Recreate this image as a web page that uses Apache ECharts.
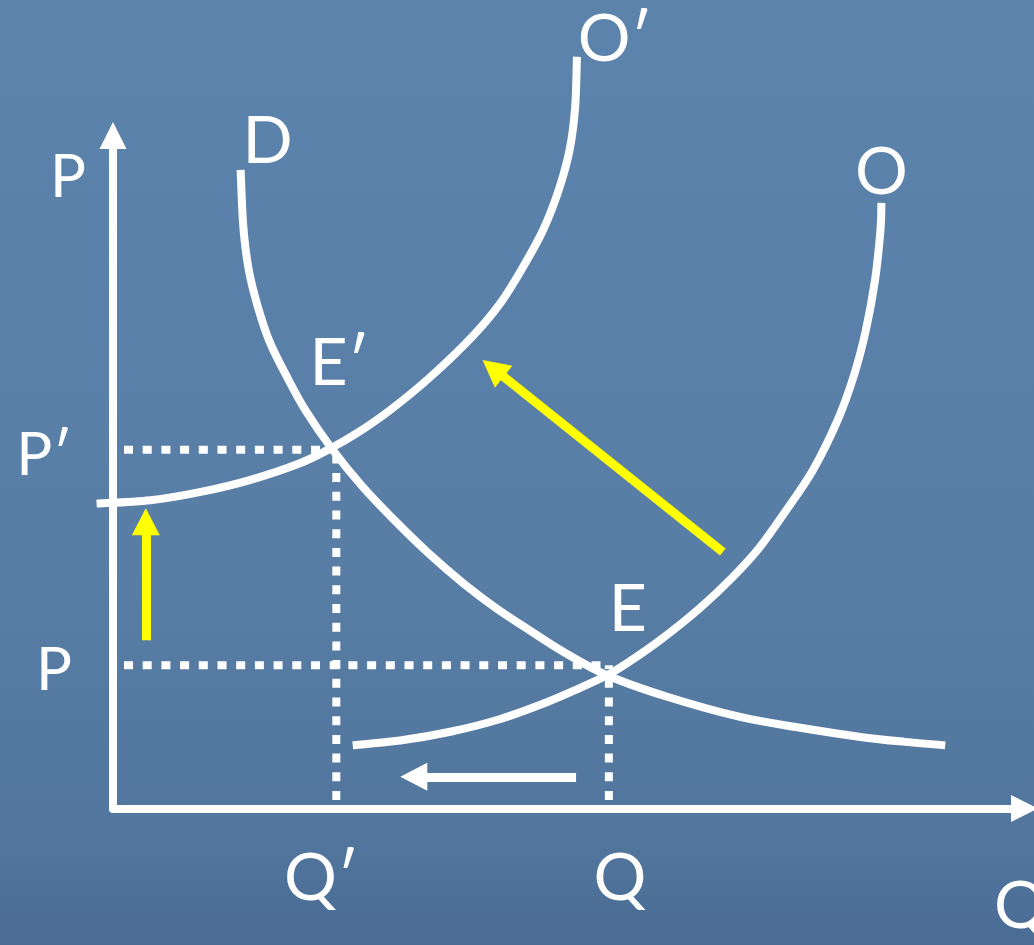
<!DOCTYPE html>
<html>
<head>
<meta charset="utf-8">
<script src="https://cdn.jsdelivr.net/npm/echarts@6/dist/echarts.min.js"></script>
<style>
html,body{margin:0;padding:0;overflow:hidden;background:#577ca5;}
#chart{width:1034px;height:945px;}
</style>
</head>
<body>
<div id="chart"></div>
<script>
// ---- Data (quantity Q on x, price P on y, axis units 0..10) ----
// Demand curve D (from its top end down to the right)
const demandQ = [1.40, 1.43, 1.49, 1.59, 1.72, 1.91, 2.11, 2.41, 2.74, 3.12, 3.48, 3.84, 4.20, 4.58, 4.94, 5.42, 6.08, 6.88, 7.54, 8.22, 8.69, 9.13];
const demandP = [9.49, 8.64, 8.00, 7.45, 6.93, 6.41, 5.92, 5.33, 4.78, 4.24, 3.77, 3.35, 2.98, 2.64, 2.33, 1.98, 1.66, 1.36, 1.20, 1.06, 0.99, 0.94];
// Supply curve O (from its low end up to its top)
const supplyQ = [2.63, 3.15, 3.70, 4.25, 4.76, 5.12, 5.42, 5.64, 6.00, 6.44, 6.80, 7.10, 7.39, 7.68, 7.95, 8.13, 8.26, 8.36, 8.42, 8.43];
const supplyP = [0.94, 1.01, 1.14, 1.33, 1.58, 1.79, 1.98, 2.16, 2.50, 2.98, 3.44, 3.89, 4.44, 5.03, 5.77, 6.44, 7.11, 7.85, 8.60, 9.00];
// Shifted supply curve O′
const shiftedQ = [-0.18, 0.41, 0.95, 1.50, 2.05, 2.40, 2.68, 3.04, 3.48, 3.94, 4.25, 4.50, 4.72, 4.89, 5.01, 5.07, 5.09];
const shiftedP = [4.53, 4.58, 4.70, 4.88, 5.13, 5.36, 5.58, 5.92, 6.41, 7.01, 7.51, 8.05, 8.60, 9.19, 9.79, 10.42, 11.17];
// Equilibrium ticks
const priceTicks = [2.13, 5.33];
const priceTickLabels = ['P', 'P\u2032'];
const quantityTicks = [2.45, 5.44];
const quantityTickLabels = ['Q\u2032', 'Q'];
// Shift arrows: [fromQ, fromP, toQ, toP]
const priceShiftArrow = [0.36, 2.50, 0.36, 4.26];
const supplyShiftArrow = [6.69, 3.81, 4.17, 6.54];
const quantityShiftArrow = [5.08, 0.47, 3.30, 0.47];
// Axis names and curve / point names
const axisNames = ['Q', 'P'];
const curveNames = ['D', 'O', 'O\u2032'];
const pointNames = ['E\u2032', 'E'];

// ---- Build ----
const zip = (a, b) => a.map((v, i) => [v, b[i]]);
const FONT = 'Lato, "DejaVu Sans", sans-serif';
const WHITE = '#ffffff';
const YELLOW = '#ffff00';
const BIG = 66, SMALL = 60;
const qPrime = quantityTicks[0], qBase = quantityTicks[1];
const pBase = priceTicks[0], pPrime = priceTicks[1];
const X_MAX = 10, Y_MAX = 10;

// Smooth path (Catmull-Rom as cubic Béziers) through pixel points given by the axes
function smoothPath(pts) {
  let d = 'M' + pts[0][0] + ' ' + pts[0][1];
  for (let i = 0; i < pts.length - 1; i++) {
    const p0 = pts[i - 1] || pts[i], p1 = pts[i], p2 = pts[i + 1], p3 = pts[i + 2] || pts[i + 1];
    const c1x = p1[0] + (p2[0] - p0[0]) / 6, c1y = p1[1] + (p2[1] - p0[1]) / 6;
    const c2x = p2[0] - (p3[0] - p1[0]) / 6, c2y = p2[1] - (p3[1] - p1[1]) / 6;
    d += ' C' + c1x + ' ' + c1y + ' ' + c2x + ' ' + c2y + ' ' + p2[0] + ' ' + p2[1];
  }
  return d;
}
function curve(name, q, p) {
  const pts = zip(q, p);
  return {
    name: name, type: 'custom', coordinateSystem: 'cartesian2d', data: pts,
    clip: false, silent: true, z: 3,
    renderItem: function (params, api) {
      if (params.dataIndex !== 0) return null;
      const px = pts.map(function (v) { return api.coord(v); });
      return {
        type: 'path',
        shape: { pathData: smoothPath(px) },
        style: { fill: null, stroke: WHITE, lineWidth: 8, lineCap: 'butt', lineJoin: 'round' }
      };
    }
  };
}
function guide(name, pts, offset) {
  return {
    name: name, type: 'line', data: pts, showSymbol: false, symbol: 'none',
    silent: true, clip: false, z: 2,
    lineStyle: { color: WHITE, width: 8, type: [9, 9.7], dashOffset: offset }
  };
}
function arrow(a, color) {
  return [
    { coord: [a[0], a[1]], lineStyle: { color: color, width: 9, type: 'solid' }, itemStyle: { color: color } },
    { coord: [a[2], a[3]] }
  ];
}

const labelData = [
  { value: [demandQ[0], demandP[0]], name: curveNames[0], label: { offset: [27, -28] } },
  { value: [supplyQ[supplyQ.length - 1], supplyP[supplyP.length - 1]], name: curveNames[1], label: { offset: [0, -30] } },
  { value: [shiftedQ[shiftedQ.length - 1], shiftedP[shiftedP.length - 1]], name: curveNames[2], label: { offset: [38, -17] } },
  { value: [qPrime, pPrime], name: pointNames[0], label: { offset: [3, -86] } },
  { value: [qBase, pBase], name: pointNames[1], label: { offset: [19, -55] } },
  { value: [X_MAX, 0], name: axisNames[0], label: { offset: [-4, 98] } }
];

const chart = echarts.init(document.getElementById('chart'), null, { renderer: 'canvas' });
chart.setOption({
  animation: false,
  backgroundColor: {
    type: 'linear', x: 0, y: 0, x2: 0, y2: 1,
    colorStops: [
      { offset: 0, color: '#5c83ac' },
      { offset: 0.6, color: '#587ea6' },
      { offset: 0.88, color: '#52769e' },
      { offset: 1, color: '#4a6c94' }
    ]
  },
  grid: { left: 113, right: 9.5, top: 135.5, bottom: 136.5, containLabel: false, outerBoundsMode: 'none' },
  xAxis: {
    type: 'value', min: 0, max: X_MAX,
    axisLine: { show: true, onZero: false, symbol: ['none', 'triangle'], symbolSize: [27, 27], lineStyle: { color: WHITE, width: 8 } },
    axisTick: { show: false },
    splitLine: { show: false },
    axisLabel: {
      show: true, customValues: quantityTicks, margin: 70, verticalAlign: 'middle',
      color: WHITE, fontSize: BIG, fontFamily: FONT,
      formatter: function (v) {
        const i = quantityTicks.indexOf(v);
        return i === 0 ? '{l|' + quantityTickLabels[0] + '}' : '{r|' + quantityTickLabels[1] + '}';
      },
      rich: {
        l: { color: WHITE, fontSize: BIG, fontFamily: FONT, padding: [0, 30, 0, 0] },
        r: { color: WHITE, fontSize: BIG, fontFamily: FONT, padding: [0, 0, 0, 22] }
      }
    }
  },
  yAxis: {
    type: 'value', min: 0, max: Y_MAX,
    name: axisNames[1], nameLocation: 'end', nameGap: -42, nameMoveOverlap: false,
    nameTextStyle: { color: WHITE, fontSize: SMALL, fontFamily: FONT, align: 'center', verticalAlign: 'middle', padding: [0, 90, 0, 0] },
    axisLine: { show: true, onZero: false, symbol: ['none', 'triangle'], symbolSize: [27, 27], lineStyle: { color: WHITE, width: 8 } },
    axisTick: { show: false },
    splitLine: { show: false },
    axisLabel: {
      show: true, customValues: priceTicks, margin: 41, align: 'right', verticalAlign: 'middle',
      color: WHITE, fontSize: SMALL, fontFamily: FONT,
      formatter: function (v) { return '{p|' + priceTickLabels[priceTicks.indexOf(v)] + '}'; },
      rich: { p: { color: WHITE, fontSize: SMALL, fontFamily: FONT, padding: [12, 0, 0, 0] } }
    }
  },
  series: [
    guide('guideP\u2032', [[0, pPrime], [qPrime, pPrime]], 7.7),
    guide('guideQ\u2032', [[qPrime, 0], [qPrime, pPrime]], 10.2),
    guide('guideP', [[0, pBase], [qBase, pBase]], 7.7),
    guide('guideQ', [[qBase, 0], [qBase, pBase]], 10.2),
    curve(curveNames[0], demandQ, demandP),
    curve(curveNames[1], supplyQ, supplyP),
    curve(curveNames[2], shiftedQ, shiftedP),
    {
      name: 'arrows', type: 'line', data: [], silent: true, z: 4,
      markLine: {
        silent: true, animation: false,
        symbol: ['none', 'triangle'], symbolSize: [28, 27],
        label: { show: false },
        emphasis: { disabled: true },
        data: [
          arrow(priceShiftArrow, YELLOW),
          arrow(supplyShiftArrow, YELLOW),
          arrow(quantityShiftArrow, WHITE)
        ]
      }
    },
    {
      name: 'labels', type: 'scatter', data: labelData, symbolSize: 0, silent: true, z: 5, clip: false,
      itemStyle: { opacity: 1 },
      label: {
        show: true, position: 'inside', formatter: '{b}', color: WHITE, opacity: 1,
        fontSize: BIG, fontFamily: FONT, align: 'center', verticalAlign: 'middle'
      }
    }
  ]
});
</script>
</body>
</html>
